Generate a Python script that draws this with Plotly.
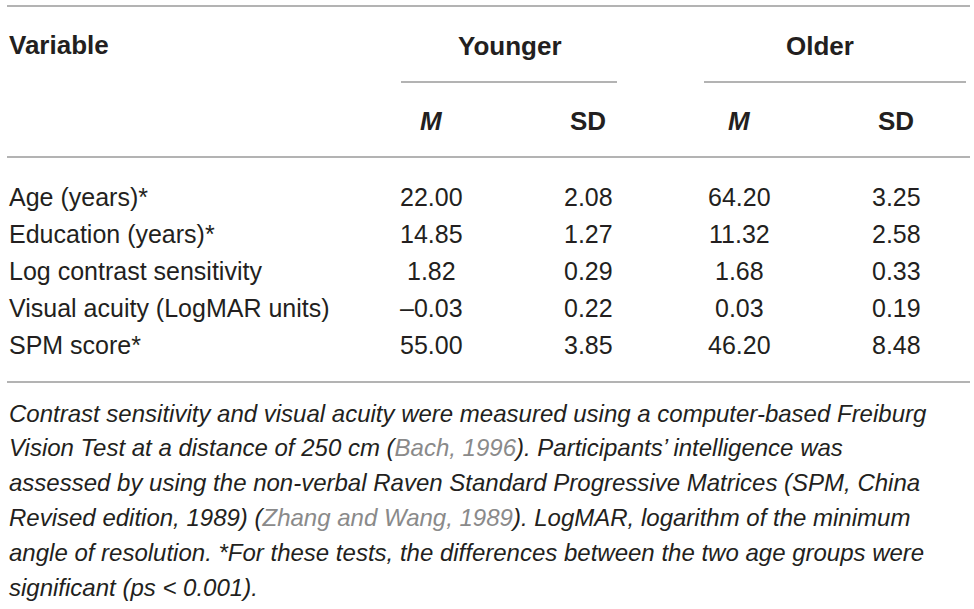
import plotly.graph_objects as go

# table content
variables = ["Age (years)*", "Education (years)*", "Log contrast sensitivity",
             "Visual acuity (LogMAR units)", "SPM score*"]
younger_m = [22.00, 14.85, 1.82, -0.03, 55.00]
younger_sd = [2.08, 1.27, 0.29, 0.22, 3.85]
older_m = [64.20, 11.32, 1.68, 0.03, 46.20]
older_sd = [3.25, 2.58, 0.33, 0.19, 8.48]
groups = ["Younger", "Older"]
subheads = ["<i>M</i>", "SD", "<i>M</i>", "SD"]

GREY = "#8a8a8a"
footnote = [
    "Contrast sensitivity and visual acuity were measured using a computer-based Freiburg",
    f"Vision Test at a distance of 250 cm (<span style='color:{GREY}'>Bach, 1996</span>). Participants’ intelligence was",
    "assessed by using the non-verbal Raven Standard Progressive Matrices (SPM, China",
    f"Revised edition, 1989) (<span style='color:{GREY}'>Zhang and Wang, 1989</span>). LogMAR, logarithm of the minimum",
    "angle of resolution. *For these tests, the differences between the two age groups were",
    "significant (ps &lt; 0.001).",
]

W, H = 974, 609
TEXT = "#231f20"
LINE = "#9a9a9a"
FONT = "Liberation Sans, Arial, sans-serif"

col_x = [431, 588, 739, 896]
group_x = [510, 820]
group_lines = [(401, 617), (704, 966)]
row_y = [197, 234, 271, 308, 345]


def fmt(v):
    return f"{v:.2f}".replace("-", "\u2013")


annotations = []
shapes = []

# full-width rules
for y in [6, 157, 382]:
    shapes.append(dict(type="line", x0=7, x1=970, y0=y, y1=y,
                       line=dict(color=LINE, width=1.5)))
for x0, x1 in group_lines:
    shapes.append(dict(type="line", x0=x0, x1=x1, y0=82, y1=82,
                       line=dict(color=LINE, width=1.5)))

# header
annotations.append(dict(x=7, y=45, text="<b>Variable</b>", xanchor="left",
                        yanchor="middle", font=dict(size=26, color=TEXT)))
for gx, g in zip(group_x, groups):
    annotations.append(dict(x=gx, y=46, text=f"<b>{g}</b>", xanchor="center",
                            yanchor="middle", font=dict(size=26, color=TEXT)))
for cx, s in zip(col_x, subheads):
    annotations.append(dict(x=cx, y=121, text=f"<b>{s}</b>", xanchor="center",
                            yanchor="middle", font=dict(size=26, color=TEXT)))

# body
columns = [younger_m, younger_sd, older_m, older_sd]
for i, name in enumerate(variables):
    annotations.append(dict(x=7, y=row_y[i], text=name, xanchor="left",
                            yanchor="middle", font=dict(size=25, color=TEXT)))
    for cx, col in zip(col_x, columns):
        annotations.append(dict(x=cx, y=row_y[i], text=fmt(col[i]),
                                xanchor="center", yanchor="middle",
                                font=dict(size=25, color=TEXT)))

# footnote
for i, line in enumerate(footnote):
    annotations.append(dict(x=7, y=413 + i * 34.8, text=f"<i>{line}</i>",
                            xanchor="left", yanchor="middle",
                            font=dict(size=24, color=TEXT)))

fig = go.Figure()
fig.update_layout(
    width=W, height=H,
    margin=dict(l=0, r=0, t=0, b=0),
    paper_bgcolor="white", plot_bgcolor="white",
    font=dict(family=FONT, color=TEXT),
    xaxis=dict(range=[0, W], visible=False, fixedrange=True),
    yaxis=dict(range=[H, 0], visible=False, fixedrange=True),
    shapes=shapes,
    annotations=[dict(a, xref="x", yref="y", showarrow=False) for a in annotations],
    showlegend=False,
)

# page body has a default 8px margin, drop it so the figure fills the window
fig.write_html("out.html", config={"displayModeBar": False},
               post_script="document.body.style.margin='0';")
